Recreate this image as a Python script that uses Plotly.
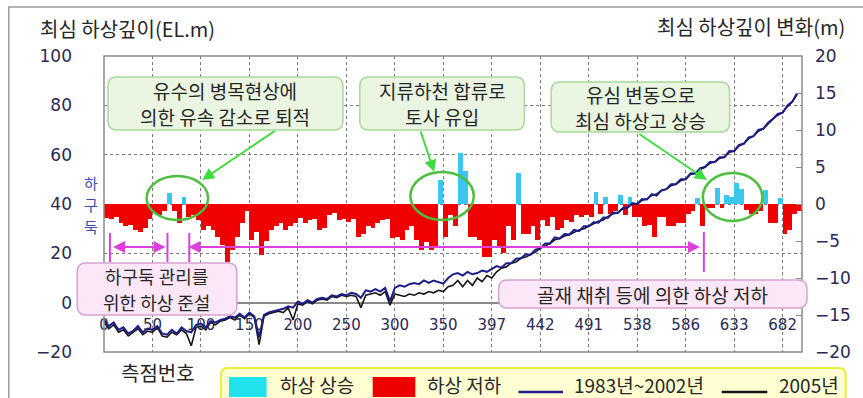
import plotly.graph_objects as go

# ---------------- data ----------------
x_tick_labels = ["0", "50", "100", "150", "200", "250", "300", "350", "397",
                 "442", "491", "538", "586", "633", "682"]

# riverbed change per 5-station bin (m), right axis
bed_change = [
    -1.9, -2.0, -1.8, -2.6, -3.0, -2.8, -3.5, -3.8, -3.2, -2.0,
    -1.2, -1.5, -1.0, 1.5, -1.0, -2.6, 1.0, -1.7, -1.5, -2.2,
    -3.5, -3.0, -3.5, -4.5, -5.5, -7.8, -6.2, -4.5, -2.6, -1.0,
    -4.9, -3.8, -6.9, -5.0, -3.5, -3.0, -2.6, -3.5, -3.0, -2.6,
    -1.9, -2.6, -2.2, -2.0, -3.5, -3.2, -1.5, -1.2, -2.2, -2.0,
    -2.4, -2.0, -4.4, -4.0, -3.0, -3.2, -2.6, -2.2, -2.0, -4.6,
    -4.4, -4.8, -3.5, -3.0, -4.9, -6.2, -5.2, -6.2, -5.8, 3.2,
    -4.5, -1.5, -3.0, 6.9, 4.5, -4.4, -4.4, -4.9, -7.1, -7.1,
    -4.9, -5.8, -6.6, -3.0, -4.9, 4.2, -4.0, -4.0, -3.0, -4.9,
    -2.2, -3.0, -1.7, -3.5, -3.2, -2.2, -2.4, -1.5, -1.7, -1.5,
    -1.7, 1.6, -1.3, 1.0, -1.3, -1.0, 1.2, -1.5, 1.0, -1.7,
    -1.7, -3.0, -2.8, -4.4, -1.7, -1.7, -3.0, -3.0, -2.6, -2.6,
    -1.3, -1.0, 0.8, -3.0, -0.5, -0.5, 2.1, -0.6, 1.2, 1.0,
    2.8, 2.0, -0.8, -1.3, -1.3, -1.0, 1.9, -2.6, -2.6, 0.8,
    -4.0, -3.5, -1.3, -1.0,
]

# deepest bed elevation (EL.m), every 5 stations, left axis
bed_1983_2002 = [
    -7.0, -9.5, -8.0, -11.0, -10.0, -12.5, -11.5, -9.5, -12.0, -10.5,
    -11.0, -9.5, -12.5, -13.0, -11.0, -12.5, -10.0, -11.5, -12.0, -9.0,
    -8.5, -10.0, -7.5, -8.0, -7.0, -6.5, -5.5, -6.0, -4.5, -6.0,
    -4.0, -5.5, -14.0, -5.0, -4.0, -3.5, -3.0, -2.5, -1.5, -2.0,
    0.5, -0.5, 1.0, 0.0, 1.5, 2.0, 1.5, 3.0, 2.5, 3.5,
    3.0, 4.0, 3.5, 2.0, 5.0, 4.5, 5.5, 4.5, 6.0, 0.5,
    6.0, 7.0, 6.5, 7.5, 8.0, 7.5, 9.0, 8.0, 9.0, 8.5,
    7.7, 10.0, 11.5, 12.0, 11.0, 12.5, 11.5, 12.0, 13.0, 12.5,
    13.5, 14.8, 14.2, 16.0, 16.0, 17.8, 18.0, 19.6, 19.4, 21.5,
    22.0, 24.0, 24.0, 26.5, 26.0, 27.8, 27.6, 29.5, 29.0, 31.0,
    31.0, 32.6, 32.4, 34.5, 34.4, 36.5, 36.4, 38.3, 38.6, 40.4,
    40.0, 42.0, 41.8, 44.0, 43.4, 45.5, 46.0, 48.0, 48.0, 50.0,
    50.0, 52.5, 52.4, 54.5, 55.0, 57.0, 57.0, 59.0, 59.0, 61.5,
    61.4, 64.0, 64.4, 67.0, 67.5, 70.0, 70.5, 73.0, 74.5, 76.5,
    77.0, 80.0, 81.5, 85.0,
]

bed_2005 = [
    -8.0, -10.5, -9.0, -12.0, -11.0, -13.5, -12.0, -10.5, -13.0, -11.5,
    -12.0, -10.0, -13.5, -14.0, -12.0, -13.0, -11.0, -12.5, -17.5, -10.0,
    -9.5, -11.0, -8.0, -9.0, -7.5, -7.0, -6.0, -7.0, -5.0, -6.5,
    -4.5, -6.0, -17.0, -5.5, -4.5, -4.0, -3.5, -4.0, -2.0, -7.0,
    -0.5, -1.0, 0.5, -0.5, 1.0, 1.5, 1.0, 2.5, 2.0, 3.0,
    2.5, 3.0, 2.5, -2.0, 3.0, 3.5, 4.0, 3.0, 4.5, -1.0,
    3.5, 3.0, 2.5, 3.5, 3.0, 4.0, 3.5, 4.5, 4.0, 5.0,
    4.5, 6.5, 7.0, 9.0, 6.5, 9.0, 7.0, 10.0, 8.5, 11.0,
    10.0, 12.5, 14.0, 14.5, 16.0, 16.5, 18.0, 18.5, 19.5, 20.5,
    22.0, 23.0, 24.0, 25.5, 26.0, 27.0, 27.5, 28.5, 29.5, 30.0,
    31.0, 32.0, 33.0, 33.5, 35.0, 36.0, 36.5, 38.0, 38.5, 40.0,
    40.0, 41.5, 42.0, 43.5, 44.0, 45.5, 46.0, 47.5, 48.0, 49.5,
    50.0, 52.0, 52.5, 54.0, 55.0, 56.5, 57.0, 58.5, 59.0, 61.0,
    61.5, 63.5, 64.5, 66.5, 67.5, 69.5, 70.5, 72.5, 74.5, 76.0,
    77.0, 79.5, 81.5, 84.5,
]

STEP = 5
bar_x = [STEP * i + STEP / 2 for i in range(len(bed_change))]
line_x = [STEP * i for i in range(len(bed_1983_2002))]
rise = [v if v > 0 else 0 for v in bed_change]
fall = [v if v < 0 else 0 for v in bed_change]

# ---------------- geometry helpers (styling only) ----------------
W, H = 863, 398
L, R, T, B = 104, 808, 56, 352
PW, PH = R - L, B - T


def xp(px):
    return (px - L) / PW


def yp(py):
    return (B - py) / PH


KF = "Noto Sans CJK KR, sans-serif"
NF = "DejaVu Sans, sans-serif"
TXT = "#262626"
TICKC = "#2a2a55"

fig = go.Figure()

fig.add_trace(go.Bar(x=bar_x, y=fall, width=STEP, marker_color="#f00000",
                     marker_line_width=0, name="하상 저하", yaxis="y",
                     showlegend=False))
fig.add_trace(go.Bar(x=bar_x, y=rise, width=STEP, marker_color="#3cc6ee",
                     marker_line_width=0, name="하상 상승", yaxis="y",
                     showlegend=False))
fig.add_trace(go.Scatter(x=line_x, y=bed_2005, mode="lines", name="2005년",
                         line=dict(color="#151515", width=1.6), yaxis="y2",
                         showlegend=False))
fig.add_trace(go.Scatter(x=line_x, y=bed_1983_2002, mode="lines",
                         name="1983년~2002년",
                         line=dict(color="#1c1c8a", width=2.0), yaxis="y2",
                         showlegend=False))

shapes = []
annotations = []


def rrect(x0, y0, x1, y1, r, fill, line, lw=1.5, layer="above"):
    X0, X1 = xp(x0), xp(x1)
    Y0, Y1 = yp(y1), yp(y0)
    rx, ry = r / PW, r / PH
    path = (f"M{X0+rx},{Y0} L{X1-rx},{Y0} Q{X1},{Y0} {X1},{Y0+ry} "
            f"L{X1},{Y1-ry} Q{X1},{Y1} {X1-rx},{Y1} L{X0+rx},{Y1} "
            f"Q{X0},{Y1} {X0},{Y1-ry} L{X0},{Y0+ry} Q{X0},{Y0} {X0+rx},{Y0} Z")
    shapes.append(dict(type="path", path=path, xref="paper", yref="paper",
                       fillcolor=fill, line=dict(color=line, width=lw),
                       layer=layer))


def text(px, py, s, size=17, color=TXT, anchor="center", font=KF):
    annotations.append(dict(x=xp(px), y=yp(py), xref="paper", yref="paper",
                            text=s, showarrow=False, xanchor=anchor,
                            yanchor="middle", borderpad=0,
                            font=dict(family=font, size=size, color=color)))


def pline(x0, y0, x1, y1, color, w):
    shapes.append(dict(type="line", xref="paper", yref="paper",
                       x0=xp(x0), y0=yp(y0), x1=xp(x1), y1=yp(y1),
                       line=dict(color=color, width=w), layer="above"))


def arrow(hx, hy, tx, ty, color, w, both=False, head=2, size=1.2):
    annotations.append(dict(x=xp(hx), y=yp(hy), xref="paper", yref="paper",
                            ax=tx - hx, ay=ty - hy, text="", showarrow=True,
                            arrowhead=head, arrowsize=size, arrowwidth=w,
                            startarrowhead=head, startarrowsize=size,
                            arrowside="end+start" if both else "end",
                            arrowcolor=color))


# outer frame (top + left visible)
shapes.append(dict(type="rect", xref="paper", yref="paper",
                   x0=xp(8), y0=yp(410), x1=xp(880), y1=yp(7),
                   line=dict(color="#9a9a9a", width=1.5), layer="below"))
# plot frame
shapes.append(dict(type="rect", xref="paper", yref="paper", x0=0, y0=0,
                   x1=1, y1=1, line=dict(color="#8a8a8a", width=1.5),
                   layer="above"))

# green circles
GC = "#4cbf3c"
for (cx, cy, rx_, ry_) in [(178, 198, 31, 22), (445, 196, 32, 24),
                           (738, 197, 30, 24)]:
    shapes.append(dict(type="circle", xref="paper", yref="paper",
                       x0=xp(cx - rx_), x1=xp(cx + rx_),
                       y0=yp(cy + ry_), y1=yp(cy - ry_),
                       line=dict(color=GC, width=2.5), layer="above"))

# magenta markers
MC = "#dd3fdd"
pline(110, 233, 110, 262, MC, 2)
pline(168, 233, 168, 262, MC, 2)
pline(190, 233, 190, 262, MC, 2)
pline(709, 232, 709, 272, MC, 2)
arrow(166, 247, 112, 247, MC, 2, both=True)
arrow(705, 247, 192, 247, MC, 2, both=True)

# green arrows
AC = "#3fdc3f"
arrow(203, 180, 277, 130, AC, 2)
arrow(437, 172, 423, 130, AC, 2)
arrow(712, 180, 643, 133, AC, 2)

# green boxes
GF, GL = "#eaf6e2", "#a9d89c"
rrect(108, 77, 345, 130, 9, GF, GL)
rrect(362, 77, 528, 130, 9, GF, GL)
rrect(555, 82, 735, 132, 9, GF, GL)
text(226, 91, "유수의 병목현상에", 19)
text(226, 117, "의한 유속 감소로 퇴적", 19)
text(445, 91, "지류하천 합류로", 19)
text(445, 117, "토사 유입", 19)
text(645, 94, "유심 변동으로", 19)
text(645, 120, "최심 하상고 상승", 19)

# pink boxes
PF, PL = "#fbe7f7", "#d7a2d0"
rrect(77, 263, 238, 315, 9, PF, PL)
rrect(502, 280, 813, 308, 9, PF, PL)
text(157, 276, "하구둑 관리를", 18)
text(157, 302, "위한 하상 준설", 18)
text(657, 294, "골재 채취 등에 의한 하상 저하", 19)

# axis titles & labels
text(38, 28, "최심 하상깊이(EL.m)", 20, anchor="left")
text(852, 26, "최심 하상깊이 변화(m)", 20, anchor="right")
text(158, 372, "측점번호", 20)
for ch, yy in [("하", 182), ("구", 204.5), ("둑", 227)]:
    text(91, yy, ch, 15, color="#3a4ea8")

# legend (drawn)
rrect(222, 368, 852, 404, 7, "#ffffd2", "#ecec3a", 2)
shapes.append(dict(type="rect", xref="paper", yref="paper",
                   x0=xp(230), x1=xp(268), y0=yp(397), y1=yp(377),
                   fillcolor="#22e2f0", line=dict(width=0), layer="above"))
shapes.append(dict(type="rect", xref="paper", yref="paper",
                   x0=xp(375), x1=xp(418), y0=yp(397), y1=yp(377),
                   fillcolor="#ee0000", line=dict(width=0), layer="above"))
pline(522, 392, 567, 392, "#1c1c8a", 2.5)
pline(727, 392, 773, 392, "#151515", 2.5)
text(281, 384, "하상 상승", 19, anchor="left")
text(429, 384, "하상 저하", 19, anchor="left")
text(577, 384, "1983년~2002년", 19, anchor="left")
text(784, 384, "2005년", 19, anchor="left")

tickvals = [50 * i for i in range(len(x_tick_labels))]

fig.update_layout(
    width=W, height=H,
    margin=dict(l=L, r=W - R, t=T, b=H - B, pad=0),
    paper_bgcolor="white", plot_bgcolor="white",
    bargap=0, barmode="relative",
    showlegend=False,
    shapes=shapes, annotations=annotations,
    xaxis=dict(range=[0, 720], tickvals=tickvals, ticktext=x_tick_labels,
               anchor="free", position=yp(302), showline=False,
               ticks="", ticklabelstandoff=12,
               tickfont=dict(family=NF, size=15, color=TICKC),
               showgrid=True, gridcolor="#7a7a7a", griddash="3px,3px",
               gridwidth=1, zeroline=False),
    yaxis=dict(range=[-20, 20], tickvals=list(range(-20, 21, 5)),
               side="right", ticks="inside", ticklen=6, tickcolor="#8a8a8a",
               showgrid=False, zeroline=False, ticklabelstandoff=12,
               tickfont=dict(family=NF, size=17, color=TICKC)),
    yaxis2=dict(range=[-20, 100], tickvals=list(range(-20, 101, 20)),
                overlaying="y", side="left", ticks="",
                showgrid=True, gridcolor="#7a7a7a", griddash="3px,3px",
                gridwidth=1, zeroline=True, zerolinecolor="#8a8a8a",
                zerolinewidth=1.5, ticklabelstandoff=31,
                tickfont=dict(family=NF, size=17, color=TICKC)),
)

fig.write_html("out.html")
